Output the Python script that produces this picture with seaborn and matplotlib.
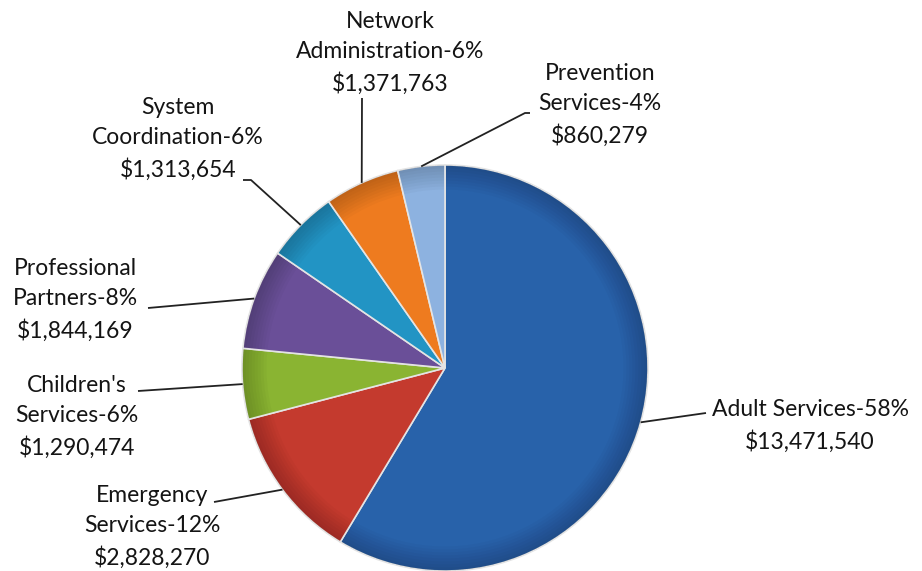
import numpy as np
import seaborn as sns
import matplotlib
matplotlib.use("Agg")
import matplotlib.pyplot as plt
from matplotlib.patches import Wedge

# budget by service area, clockwise from the top
categories = ["Adult Services", "Emergency Services", "Children's Services",
              "Professional Partners", "System Coordination",
              "Network Administration", "Prevention Services"]
amounts = [13471540, 2828270, 1290474, 1844169, 1313654, 1371763, 860279]
percents = [58, 12, 6, 8, 6, 6, 4]
label_text = ["Adult Services-58%\n$13,471,540",
              "Emergency\nServices-12%\n$2,828,270",
              "Children's\nServices-6%\n$1,290,474",
              "Professional\nPartners-8%\n$1,844,169",
              "System\nCoordination-6%\n$1,313,654",
              "Network\nAdministration-6%\n$1,371,763",
              "Prevention\nServices-4%\n$860,279"]
colors = ["#2862AA", "#C43A2E", "#8AB432", "#6A4F98", "#2294C4", "#EE7B1F", "#8DB2E0"]

W, H = 922, 571
cx, cy, R = 445, 368, 203

# label centre (pixels) and where the leader line meets the label
label_pos = [(810, 426), (152, 527), (77, 417), (75, 300), (178, 139), (390, 53), (600, 105)]
line_end = [[(706, 413)], [(214, 502)], [(138, 391)], [(148, 308)],
            [(251, 180), (243, 180)], [(362, 98)], [(525, 113), (530, 113)]]


def main():
    sns.set_theme(style="white")
    plt.rcParams["font.family"] = ["Lato", "DejaVu Sans"]

    fig = plt.figure(figsize=(W / 100, H / 100), dpi=100)
    ax = fig.add_axes([0, 0, 1, 1])

    wedges, _ = ax.pie(amounts, colors=colors, startangle=90, counterclock=False,
                       center=(cx, H - cy), radius=R,
                       wedgeprops=dict(edgecolor="#e4e4e4", linewidth=1.2))
    ax.set_aspect("equal")
    ax.set_xlim(0, W)
    ax.set_ylim(0, H)
    ax.axis("off")

    # soft darkening towards the rim to mimic the bevelled look
    for w in wedges:
        for k in range(8):
            ax.add_patch(Wedge((cx, H - cy), R - 0.6, w.theta1 + 0.3, w.theta2 - 0.3,
                               width=3 + 3 * k, facecolor="black", alpha=0.025,
                               edgecolor="none"))

    for w, txt, (lx, ly), ends in zip(wedges, label_text, label_pos, line_end):
        mid = np.deg2rad((w.theta1 + w.theta2) / 2)
        ex, ey = cx + R * np.cos(mid), (H - cy) + R * np.sin(mid)
        xs = [ex] + [p[0] for p in ends]
        ys = [ey] + [H - p[1] for p in ends]
        ax.plot(xs, ys, color="#222222", lw=1.3, solid_capstyle="butt")
        ax.text(lx, H - ly, txt, ha="center", va="center", fontsize=16.5,
                linespacing=1.55, color="#141414")

    fig.savefig("out.png", dpi=100)


if __name__ == "__main__":
    main()
